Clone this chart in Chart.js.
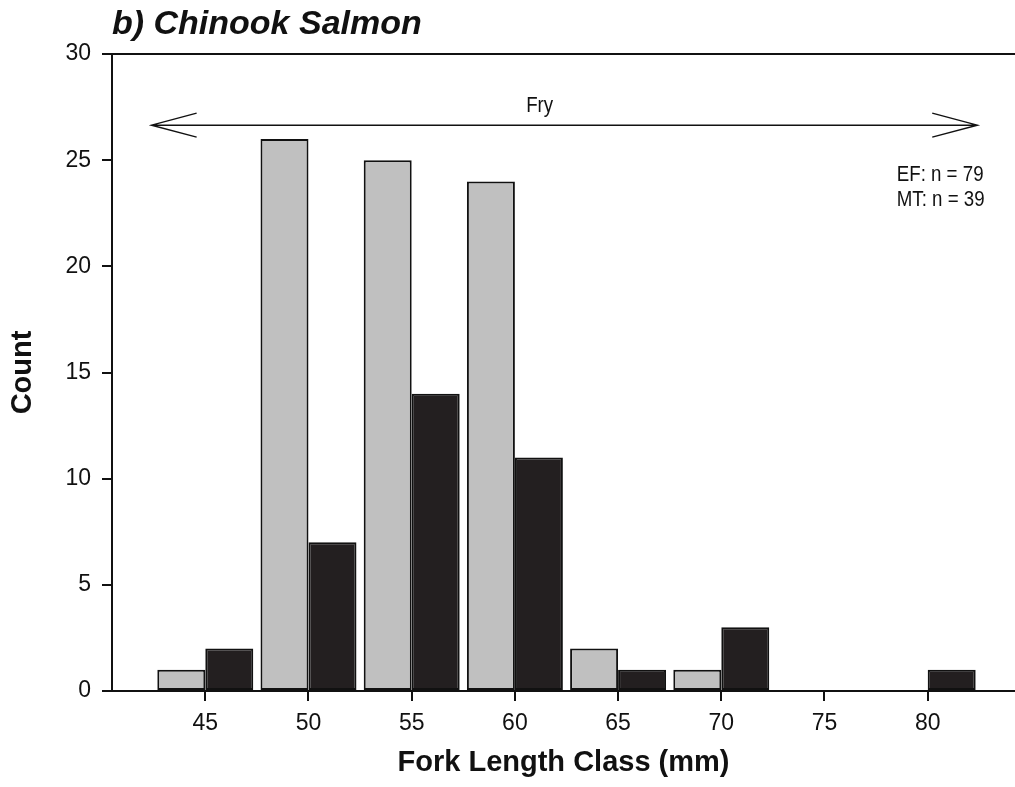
<!DOCTYPE html>
<html>
<head>
<meta charset="utf-8">
<title>Chinook Salmon</title>
<script src="https://cdn.jsdelivr.net/npm/chart.js@4.4.1/dist/chart.umd.min.js"></script>
<style>
    html, body { margin: 0; padding: 0; background: #fff; }
    #wrap { width: 1015px; height: 787px; }
</style>
</head>
<body>
<div id="wrap"><canvas id="myChart"></canvas></div>
<script>
// Fork length classes (mm) and counts per capture method
const lengthClasses = [45, 50, 55, 60, 65, 70, 75, 80];
const efCounts = [1, 26, 25, 24, 2, 1, 0, 0];
const mtCounts = [2, 7, 14, 11, 1, 3, 0, 1];
const yTicks = [0, 5, 10, 15, 20, 25, 30];
const seriesNames = ['EF', 'MT'];

// Notes written on the plot
const noteLines = ['EF: n = 79', 'MT: n = 39'];
const stageLabel = 'Fry';
const stageFrom = 42.4;
const stageTo = 82.4;
const stageY = 26.65;
const stageLabelX = 61.2;
const noteX = 78.5;
const noteY = 24.0;

const FONT = '"Liberation Sans", Arial, sans-serif';

// Arrow, stage label and sample sizes (narrow text);
const notesPlugin = {
    id: 'notes',
    afterDatasetsDraw(chart) {
        const { ctx, scales: { x, y } } = chart;
        const x1 = x.getPixelForValue(stageFrom);
        const x2 = x.getPixelForValue(stageTo);
        const yy = y.getPixelForValue(stageY);

        ctx.save();
        ctx.strokeStyle = '#111';
        ctx.lineWidth = 1.5;
        ctx.beginPath();
        ctx.moveTo(x1, yy);
        ctx.lineTo(x2, yy);
        ctx.moveTo(x1 + 45, yy - 12);
        ctx.lineTo(x1, yy);
        ctx.lineTo(x1 + 45, yy + 12);
        ctx.moveTo(x2 - 45, yy - 12);
        ctx.lineTo(x2, yy);
        ctx.lineTo(x2 - 45, yy + 12);
        ctx.stroke();

        const squeeze = 0.85;
        ctx.fillStyle = '#111';
        ctx.textBaseline = 'alphabetic';
        ctx.font = '22px ' + FONT;

        ctx.save();
        ctx.translate(x.getPixelForValue(stageLabelX), yy - 13);
        ctx.scale(squeeze, 1);
        ctx.textAlign = 'center';
        ctx.fillText(stageLabel, 0, 0);
        ctx.restore();

        for (let i in noteLines) {
            ctx.save();
            ctx.translate(x.getPixelForValue(noteX), y.getPixelForValue(noteY) + i * 25);
            ctx.scale(squeeze, 1);
            ctx.textAlign = 'left';
            ctx.fillText(noteLines[i], 0, 0);
            ctx.restore();
        }
        ctx.restore();
    }
};

const ctx = document.getElementById('myChart').getContext('2d');
const myChart = new Chart(ctx, {
    type: 'bar',
    data: {
        datasets: [{
            label: seriesNames[0],
            data: lengthClasses.map((c, i) => ({ x: c, y: efCounts[i] })),
            backgroundColor: '#c0c0c0',
            borderColor: '#111111',
            borderWidth: 2,
            borderSkipped: false
        }, {
            label: seriesNames[1],
            data: lengthClasses.map((c, i) => ({ x: c, y: mtCounts[i] })),
            backgroundColor: '#231f20',
            borderColor: '#111111',
            borderWidth: 2,
            borderSkipped: false
        }]
    },
    options: {
        responsive: true,
        maintainAspectRatio: false,
        animation: false,
        devicePixelRatio: 1,
        categoryPercentage: 0.93,
        barPercentage: 1.0,
        layout: { padding: 0 },
        scales: {
            x: {
                type: 'linear',
                min: 40.48,
                max: 84.23,
                offset: false,
                afterBuildTicks: (scale) => {
                    scale.ticks = lengthClasses.map(v => ({ value: v }));
                },
                afterFit: (scale) => { scale.height = 96; },
                grid: {
                    offset: false,
                    drawOnChartArea: false,
                    drawTicks: true,
                    tickLength: 10,
                    tickWidth: 2,
                    tickColor: '#111',
                    lineWidth: 2
                },
                border: { display: true, color: '#111', width: 2 },
                ticks: {
                    color: '#111',
                    padding: 8.6,
                    maxRotation: 0,
                    font: { family: FONT, size: 23 }
                },
                title: {
                    display: true,
                    text: 'Fork Length Class (mm)',
                    color: '#111',
                    padding: { top: 0, bottom: 6.6 },
                    font: { family: FONT, size: 29, weight: 'bold' }
                }
            },
            y: {
                min: 0,
                max: 30,
                afterBuildTicks: (scale) => {
                    scale.ticks = yTicks.map(v => ({ value: v }));
                },
                afterFit: (scale) => { scale.width = 112; },
                grid: {
                    drawOnChartArea: true,
                    drawTicks: true,
                    tickLength: 10,
                    tickWidth: 2,
                    tickColor: '#111',
                    lineWidth: 2,
                    color: (c) => (c.tick && c.tick.value === 30 ? '#111' : 'rgba(0,0,0,0)')
                },
                border: { display: true, color: '#111', width: 2 },
                ticks: {
                    color: '#111',
                    padding: 11,
                    font: { family: FONT, size: 23 }
                },
                title: {
                    display: true,
                    text: 'Count',
                    color: '#111',
                    padding: { top: 6, bottom: 0 },
                    font: { family: FONT, size: 29, weight: 'bold' }
                }
            }
        },
        plugins: {
            legend: { display: false },
            tooltip: { enabled: false },
            title: {
                display: true,
                text: 'b) Chinook Salmon',
                align: 'start',
                fullSize: false,
                color: '#111',
                padding: { top: 4.4, bottom: 8.8 },
                font: { family: FONT, size: 34, weight: 'bold', style: 'italic' }
            }
        }
    },
    plugins: [notesPlugin]
});
</script>
</body>
</html>
